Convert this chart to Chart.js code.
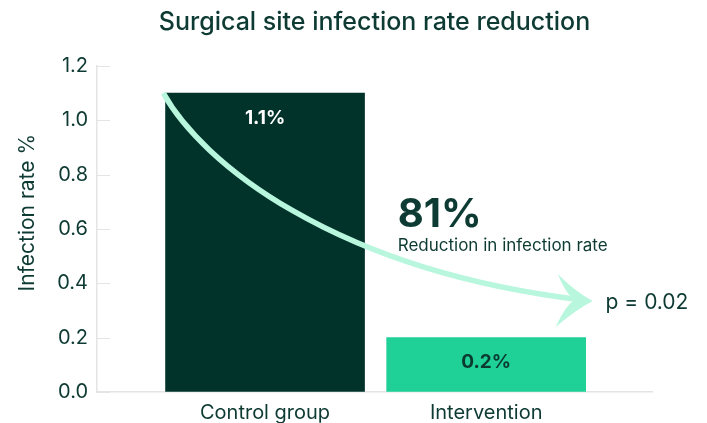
<!DOCTYPE html>
<html>
<head>
<meta charset="utf-8">
<script src="https://cdn.jsdelivr.net/npm/chart.js@4"></script>
<style>
  html, body { margin: 0; padding: 0; background: #fff; }
  #wrap { width: 707px; height: 423px; }
</style>
</head>
<body>
<div id="wrap"><canvas id="chart"></canvas></div>
<script>
const categories = ['Control group', 'Intervention'];
const infectionRates = [1.1, 0.2];
const valueLabels = ['1.1%', '0.2%'];
const barColors = ['#02332b', '#1fd197'];
const labelColors = ['#ffffff', '#0b3a31'];
const reductionText = ['81%', 'Reduction in infection rate'];
const pValueText = 'p = 0.02';
const yAxisTitle = 'Infection rate %';

const FONT = 'Inter, "Open Sans", sans-serif';
const DARK = '#0d3a32';
const MINT = '#b8f6dd';
const AXIS = '#e4e4e4';

// short tick marks pointing into the plot + y axis title
const innerTicks = {
  id: 'innerTicks',
  afterDraw(chart) {
    const { ctx, scales: { y }, chartArea } = chart;
    ctx.save();
    ctx.strokeStyle = AXIS;
    ctx.lineWidth = 1;
    y.ticks.forEach(t => {
      const py = Math.round(y.getPixelForValue(t.value)) + 0.5;
      ctx.beginPath();
      ctx.moveTo(chartArea.left, py);
      ctx.lineTo(chartArea.left + 13, py);
      ctx.stroke();
    });
    // axis title, sitting a bit above the middle like the original
    ctx.translate(28, y.getPixelForValue(0.66));
    ctx.rotate(-Math.PI / 2);
    ctx.font = `21px ${FONT}`;
    ctx.fillStyle = DARK;
    ctx.textAlign = 'center';
    ctx.textBaseline = 'middle';
    ctx.fillText(yAxisTitle, 0, 0);
    ctx.restore();
  }
};

// value labels inside the bars
const barLabels = {
  id: 'barLabels',
  afterDatasetsDraw(chart) {
    const { ctx } = chart;
    const meta = chart.getDatasetMeta(0);
    ctx.save();
    ctx.font = `bold 19px ${FONT}`;
    ctx.textAlign = 'center';
    ctx.textBaseline = 'middle';
    meta.data.forEach((bar, i) => {
      ctx.fillStyle = labelColors[i];
      ctx.fillText(valueLabels[i], bar.x, bar.y + 25);
    });
    ctx.restore();
  }
};

// curved arrow and the annotation text
const reductionArrow = {
  id: 'reductionArrow',
  afterDatasetsDraw(chart) {
    const { ctx, scales: { x, y } } = chart;
    const P = (vx, vy) => [x.getPixelForValue(vx), y.getPixelForValue(vy)];
    const p0 = P(-0.46, 1.10), p1 = P(-0.29, 0.85), p2 = P(0.30, 0.45), p3 = P(1.43, 0.339);
    ctx.save();
    ctx.strokeStyle = MINT;
    ctx.fillStyle = MINT;
    ctx.lineWidth = 5.5;
    ctx.lineCap = 'butt';
    ctx.beginPath();
    ctx.moveTo(...p0);
    ctx.bezierCurveTo(...p1, ...p2, ...p3);
    ctx.stroke();

    const tip = P(1.482, 0.335), up = P(1.324, 0.434), notch = P(1.40, 0.339), low = P(1.314, 0.239);
    const cu = P(1.40, 0.37), cl = P(1.40, 0.30);
    ctx.beginPath();
    ctx.moveTo(...tip);
    ctx.quadraticCurveTo(...cu, ...up);
    ctx.quadraticCurveTo(...P(1.36, 0.36), ...notch);
    ctx.quadraticCurveTo(...P(1.36, 0.32), ...low);
    ctx.quadraticCurveTo(...cl, ...tip);
    ctx.closePath();
    ctx.fill();

    ctx.fillStyle = DARK;
    ctx.textAlign = 'left';
    ctx.textBaseline = 'alphabetic';
    const t1 = P(0.60, 0.607);
    ctx.font = `bold 40px ${FONT}`;
    ctx.fillText(reductionText[0], t1[0], t1[1]);
    const t2 = P(0.60, 0.519);
    ctx.font = `17px ${FONT}`;
    ctx.fillText(reductionText[1], t2[0], t2[1]);
    const t3 = P(1.54, 0.33);
    ctx.font = `21px ${FONT}`;
    ctx.textBaseline = 'middle';
    ctx.fillText(pValueText, t3[0], t3[1]);
    ctx.restore();
  }
};

new Chart(document.getElementById('chart'), {
  type: 'bar',
  data: {
    datasets: [{
      data: infectionRates.map((v, i) => ({ x: i, y: v })),
      backgroundColor: barColors,
      borderWidth: 0,
      barThickness: 199
    }]
  },
  options: {
    responsive: true,
    maintainAspectRatio: false,
    animation: false,
    layout: { padding: { left: 0, right: 55, top: 0, bottom: 0 } },
    plugins: {
      legend: { display: false },
      tooltip: { enabled: false },
      title: {
        display: true,
        fullSize: false,
        text: 'Surgical site infection rate reduction',
        color: DARK,
        font: { family: FONT, size: 25, weight: '500' },
        padding: { top: 7, bottom: 29 }
      }
    },
    scales: {
      x: {
        type: 'linear',
        offset: false,
        min: -0.76,
        max: 1.75,
        afterFit: s => { s.height = 31; },
        grid: { drawOnChartArea: false, drawTicks: false },
        border: { color: AXIS, width: 1.5 },
        ticks: {
          stepSize: 1,
          includeBounds: false,
          padding: 9,
          color: DARK,
          font: { family: FONT, size: 20 },
          callback: v => categories[v] ?? ''
        }
      },
      y: {
        min: 0,
        max: 1.2,
        afterFit: s => { s.width = 97; },
        grid: { drawOnChartArea: false, drawTicks: false },
        border: { color: AXIS, width: 1.5 },
        ticks: {
          stepSize: 0.2,
          padding: 9,
          color: DARK,
          font: { family: FONT, size: 20 },
          callback: v => v.toFixed(1)
        }
      }
    }
  },
  plugins: [innerTicks, barLabels, reductionArrow]
});
</script>
</body>
</html>
